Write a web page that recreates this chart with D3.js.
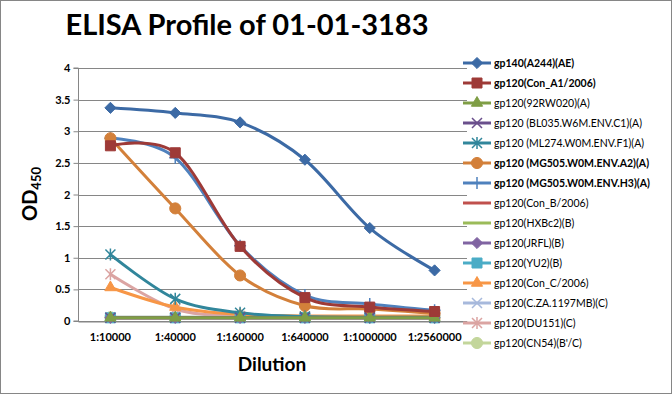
<!DOCTYPE html>
<html><head><meta charset="utf-8">
<script src="https://cdn.jsdelivr.net/npm/d3@7"></script>
<style>
html,body{margin:0;padding:0;background:#fff;}
svg{display:block;font-family:Lato,"Open Sans",sans-serif;}
</style></head>
<body><svg id="c" width="672" height="394"></svg>
<script>
const categories = ["1:10000","1:40000","1:160000","1:640000","1:1000000","1:2560000"];
const seriesNames = ["gp140(A244)(AE)","gp120(Con_A1/2006)","gp120(92RW020)(A)","gp120 (BL035.W6M.ENV.C1)(A)","gp120 (ML274.W0M.ENV.F1)(A)","gp120 (MG505.W0M.ENV.A2)(A)","gp120 (MG505.W0M.ENV.H3)(A)","gp120(Con_B/2006)","gp120(HXBc2)(B)","gp120(JRFL)(B)","gp120(YU2)(B)","gp120(Con_C/2006)","gp120(C.ZA.1197MB)(C)","gp120(DU151)(C)","gp120(CN54)(B'/C)"];
const v_gp140   = [3.37, 3.29, 3.14, 2.55, 1.47, 0.80];
const v_ConA1   = [2.77, 2.66, 1.18, 0.37, 0.22, 0.15];
const v_92RW020 = [0.05, 0.05, 0.05, 0.05, 0.05, 0.05];
const v_BL035   = [0.05, 0.05, 0.05, 0.05, 0.05, 0.05];
const v_ML274   = [1.05, 0.35, 0.13, 0.07, 0.06, 0.06];
const v_A2      = [2.89, 1.78, 0.72, 0.24, 0.19, 0.12];
const v_H3      = [2.89, 2.58, 1.19, 0.41, 0.27, 0.17];
const v_ConB    = [0.05, 0.05, 0.05, 0.05, 0.05, 0.05];
const v_HXBc2   = [0.05, 0.05, 0.05, 0.05, 0.05, 0.05];
const v_JRFL    = [0.05, 0.05, 0.05, 0.05, 0.05, 0.05];
const v_YU2     = [0.05, 0.05, 0.05, 0.05, 0.05, 0.05];
const v_ConC    = [0.53, 0.22, 0.10, 0.08, 0.08, 0.08];
const v_CZA     = [0.06, 0.06, 0.06, 0.06, 0.06, 0.06];
const v_DU151   = [0.74, 0.19, 0.08, 0.07, 0.07, 0.07];
const v_CN54    = [0.06, 0.06, 0.06, 0.06, 0.06, 0.06];
const yTicks = [0,0.5,1,1.5,2,2.5,3,3.5,4];
const boldLegend = [true,true,false,false,false,true,true,false,false,false,false,false,false,false,false];

const seriesValues = [v_gp140,v_ConA1,v_92RW020,v_BL035,v_ML274,v_A2,v_H3,v_ConB,v_HXBc2,v_JRFL,v_YU2,v_ConC,v_CZA,v_DU151,v_CN54];
const colors = ["#3C6AA5","#9E3A37","#7F9E45","#6A4F8C","#31869B","#D3803A","#4F81BD","#C0504D","#9BBB59","#8064A2","#4BACC6","#F79646","#A7B9DC","#DBA4A2","#C3D69B"];
const markers = ["diamond","square","triangle","x","star","circle","plus","none","none","diamond","square","triangle","x","star","circle"];

const svg = d3.select("#c");
svg.append("rect").attr("x",0.5).attr("y",0.5).attr("width",671).attr("height",393)
  .attr("fill","#fff").attr("stroke","#868686").attr("stroke-width",1);

const pLeft=78, pRight=467, pTop=68, pBottom=321;
const x = d3.scaleBand().domain(categories).range([pLeft,pRight]);
const y = d3.scaleLinear().domain([0,4]).range([pBottom,pTop]);

// gridlines
svg.append("g").selectAll("line").data(yTicks).join("line")
  .attr("x1",pLeft).attr("x2",pRight).attr("y1",d=>Math.round(y(d))+0.5).attr("y2",d=>Math.round(y(d))+0.5)
  .attr("stroke","#868686").attr("stroke-width",1);

// y axis
const ya = svg.append("g").attr("transform",`translate(${pLeft+0.5},0)`)
  .call(d3.axisLeft(y).tickValues(yTicks).tickSize(5).tickPadding(3).tickFormat(d=>String(d)));
ya.select(".domain").attr("stroke","#868686").attr("d",`M-5,${pTop}H0V${pBottom}H-5`);
ya.selectAll(".tick line").attr("stroke","#868686");
ya.selectAll(".tick text").attr("font-family","Lato, sans-serif").attr("font-size",11).attr("font-weight","bold").attr("fill","#000");

// x axis
const xa = svg.append("g").attr("transform",`translate(0,${pBottom+0.5})`)
  .call(d3.axisBottom(x).tickSize(0).tickPadding(12));
xa.select(".domain").attr("stroke","#868686");
xa.selectAll(".tick text").attr("font-family","Lato, sans-serif").attr("font-size",11).attr("font-weight","bold").attr("fill","#000");

function markerPath(type, s){
  switch(type){
    case "diamond": return d3.symbol(d3.symbolDiamond2, s*s*0.55)();
    case "square": return `M${-s/2},${-s/2}h${s}v${s}h${-s}Z`;
    case "triangle": return d3.symbol(d3.symbolTriangle, s*s*0.45)();
    case "circle": return d3.symbol(d3.symbolCircle, s*s*0.8)();
    default: return null;
  }
}
function drawMarker(g, type, color, cx, cy){
  const m = g.append("g").attr("transform",`translate(${cx},${cy})`);
  if(type==="none") return;
  if(type==="x"||type==="star"||type==="plus"){
    const r=5;
    let d="";
    if(type!=="plus") d+=`M${-r},${-r}L${r},${r}M${-r},${r}L${r},${-r}`;
    if(type!=="x") d+=`M0,${-r-1}L0,${r+1}`;
    if(type==="plus") d+=`M${-r-1},0L${r+1},0`;
    m.append("path").attr("d",d).attr("stroke",color).attr("stroke-width",1.5).attr("fill","none");
    return;
  }
  const s = type==="diamond"?12:(type==="circle"?11:(type==="square"?10:11));
  m.append("path").attr("d",markerPath(type,s)).attr("fill",color).attr("stroke",color).attr("stroke-width",1);
}

const line = d3.line().x((d,i)=>x(categories[i])+x.bandwidth()/2).y(d=>y(d)).curve(d3.curveCardinal.tension(0));

// draw in reverse so first series on top
const order = d3.range(seriesValues.length).reverse();
order.forEach(k=>{
  const g = svg.append("g");
  g.append("path").attr("d",line(seriesValues[k])).attr("fill","none")
    .attr("stroke",colors[k]).attr("stroke-width",3).attr("stroke-linejoin","round").attr("stroke-linecap","round");
  seriesValues[k].forEach((v,i)=>drawMarker(g, markers[k], colors[k], x(categories[i])+x.bandwidth()/2, y(v)));
});

// legend
const lg = svg.append("g");
seriesNames.forEach((name,k)=>{
  const yy = 63 + k*20;
  lg.append("line").attr("x1",463).attr("x2",491).attr("y1",yy).attr("y2",yy)
    .attr("stroke",colors[k]).attr("stroke-width",3);
  drawMarker(lg, markers[k], colors[k], 477, yy);
  lg.append("text").attr("x",494).attr("y",yy+4).text(name)
    .attr("font-family","Lato, sans-serif").attr("font-size",10.5)
    .attr("font-weight",boldLegend[k]?"bold":"normal").attr("fill","#000");
});

// titles
svg.append("text").attr("x",247).attr("y",35).attr("text-anchor","middle")
  .attr("font-family","Lato, sans-serif").attr("font-size",29).attr("font-weight","bold").text("ELISA Profile of 01-01-3183");
svg.append("text").attr("x",272).attr("y",371).attr("text-anchor","middle")
  .attr("font-family","Lato, sans-serif").attr("font-size",19).attr("font-weight","bold").text("Dilution");
const yl = svg.append("text").attr("transform","translate(37,194) rotate(-90)").attr("text-anchor","middle")
  .attr("font-family","Lato, sans-serif").attr("font-weight","bold");
yl.append("tspan").attr("font-size",20).text("OD");
yl.append("tspan").attr("font-size",13).attr("dy",4).text("450");
</script></body></html>
